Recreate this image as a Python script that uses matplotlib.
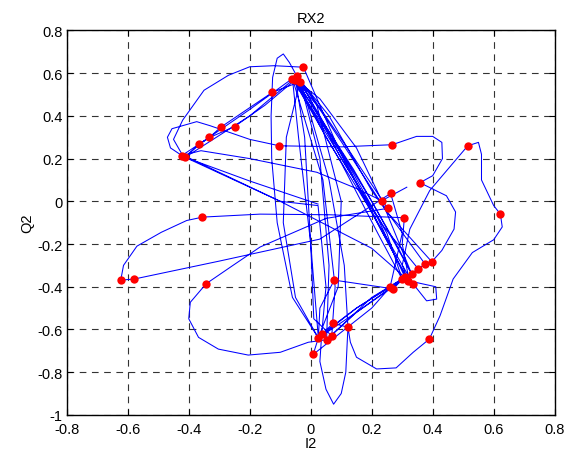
import matplotlib
matplotlib.use('Agg')
import matplotlib.pyplot as plt

plt.rcParams['font.family'] = ['Liberation Sans', 'DejaVu Sans']

# received trajectory (I2, Q2)
traj_i = [0.024, -0.20, -0.412,
          -0.365, -0.20, -0.06,
          0.08, 0.22, 0.309,
          0.15, 0.036,
          0.03, 0.05, 0.075, 0.10, 0.115, 0.122,
          0.11, 0.06, -0.02, -0.045,
          -0.07, -0.09, -0.11, -0.125, -0.13, -0.128, -0.11, -0.06, 0.025,
          0.15, 0.331,
          0.20, 0.05, -0.035,
          -0.126, -0.295, -0.332, -0.423,
          -0.36, -0.20, 0.02, 0.15, 0.233,
          0.15, 0.03, -0.05,
          0.05, 0.20, 0.32,
          0.41, 0.413, 0.38, 0.336,
          0.22, 0.09, -0.024,
          -0.12, -0.20, -0.27, -0.35, -0.42, -0.45, -0.418,
          -0.46, -0.47, -0.455, -0.374, -0.33, -0.20, -0.103, 0.10, 0.267,
          0.347, 0.40, 0.43, 0.432, 0.40, 0.358, 0.445, 0.475, 0.47, 0.43, 0.397,
          0.25, 0.10, -0.04,
          0.10, 0.24, 0.353,
          0.20, 0.052,
          -0.008, -0.10, -0.205, -0.303, -0.368, -0.40, -0.395, -0.343,
          -0.255, -0.166, 0.05, 0.252,
          0.12, 0.0, -0.05,
          -0.02, 0.0, 0.01, 0.069,
          0.08, 0.04, -0.06,
          0.12, 0.25, 0.30,
          0.271, 0.20, 0.077, 0.03, 0.025,
          0.008, 0.20, 0.26,
          0.30, 0.262, 0.03, -0.30, -0.579, -0.623,
          -0.614, -0.57, -0.49, -0.407, -0.355, -0.166, 0.063, 0.307,
          0.30, 0.32, 0.375,
          0.20, 0.06, -0.045,
          -0.20, -0.412,
          -0.10, 0.024, 0.05, 0.036,
          0.074, 0.122, 0.13, 0.15, 0.216, 0.28, 0.336, 0.389,
          0.424, 0.467, 0.53, 0.60, 0.628, 0.622, 0.60, 0.56, 0.56, 0.55, 0.515,
          0.39, 0.325, 0.30, 0.32,
          0.18, 0.07, -0.05,
          -0.15, -0.25, -0.33, -0.365, -0.41,
          -0.10, 0.20, 0.309,
          0.15, 0.025,
          0.0, -0.04, -0.06,
          0.10, 0.22, 0.30,
          0.15, 0.052,
          0.06, 0.03, -0.035,
          -0.08, -0.09, -0.05, 0.025,
          0.09, 0.10, 0.02, -0.05,
          0.14, 0.28, 0.331,
          0.233, 0.315]
traj_q = [-0.013, 0.095, 0.206,
          0.268, 0.43, 0.575,
          0.25, -0.08, -0.356,
          -0.50, -0.622,
          -0.75, -0.88, -0.95, -0.90, -0.80, -0.59,
          -0.30, 0.10, 0.50, 0.585,
          0.65, 0.69, 0.67, 0.58, 0.40, 0.20, -0.10, -0.45, -0.64,
          -0.52, -0.34,
          0.0, 0.35, 0.56,
          0.51, 0.347, 0.30, 0.214,
          0.237, 0.20, 0.136, 0.06, 0.003,
          0.25, 0.48, 0.57,
          0.30, -0.05, -0.372,
          -0.40, -0.458, -0.466, -0.387,
          -0.10, 0.25, 0.628,
          0.635, 0.63, 0.59, 0.52, 0.38, 0.29, 0.21,
          0.25, 0.30, 0.34, 0.373, 0.354, 0.29, 0.26, 0.255, 0.265,
          0.304, 0.304, 0.276, 0.20, 0.12, 0.087, 0.026, -0.05, -0.13, -0.23, -0.283,
          -0.05, 0.28, 0.58,
          0.20, -0.12, -0.317,
          -0.45, -0.648,
          -0.66, -0.707, -0.72, -0.692, -0.637, -0.55, -0.473, -0.386,
          -0.30, -0.214, -0.08, -0.033,
          0.25, 0.50, 0.57,
          0.30, -0.20, -0.55, -0.63,
          -0.40, 0.10, 0.575,
          0.18, -0.15, -0.365,
          -0.41, -0.395, -0.369, -0.50, -0.64,
          -0.717, -0.50, -0.403,
          -0.15, 0.037, -0.177, -0.28, -0.364, -0.369,
          -0.30, -0.21, -0.145, -0.09, -0.074, -0.06, -0.063, -0.077,
          -0.20, -0.35, -0.294,
          0.05, 0.40, 0.585,
          0.40, 0.206,
          0.0, -0.02, -0.40, -0.622,
          -0.571, -0.59, -0.66, -0.73, -0.785, -0.78, -0.707, -0.645,
          -0.536, -0.364, -0.24, -0.18, -0.12, -0.06, -0.02, 0.10, 0.22, 0.276, 0.26,
          0.05, -0.13, -0.30, -0.372,
          0.0, 0.30, 0.57,
          0.45, 0.35, 0.30, 0.268, 0.21,
          0.0, -0.22, -0.356,
          -0.50, -0.64,
          -0.20, 0.30, 0.575,
          0.18, -0.15, -0.365,
          -0.52, -0.648,
          -0.30, 0.20, 0.56,
          0.30, -0.10, -0.45, -0.64,
          -0.40, 0.0, 0.45, 0.57,
          0.15, -0.20, -0.34,
          0.003, 0.066]

# symbol sampling instants (red dots)
sym_i = [-0.024, -0.06, -0.045, -0.035, -0.05, -0.126, -0.25, -0.295, -0.332,
         -0.365, -0.423, -0.412, -0.103, 0.267, 0.515, 0.358, 0.262, 0.233,
         0.252, 0.307, 0.622, -0.355, -0.623, -0.579, -0.343, 0.077, 0.397,
         0.375, 0.353, 0.331, 0.309, 0.336, 0.32, 0.30, 0.271, 0.26, 0.389,
         0.074, 0.122, 0.025, 0.052, 0.069, 0.036, 0.008]
sym_q = [0.628, 0.575, 0.585, 0.56, 0.57, 0.51, 0.35, 0.347, 0.30,
         0.268, 0.214, 0.206, 0.26, 0.265, 0.26, 0.087, 0.037, 0.003,
         -0.033, -0.077, -0.06, -0.074, -0.369, -0.364, -0.386, -0.369, -0.283,
         -0.294, -0.317, -0.34, -0.356, -0.387, -0.372, -0.365, -0.41, -0.403, -0.645,
         -0.571, -0.59, -0.64, -0.648, -0.63, -0.622, -0.717]

fig = plt.figure(figsize=(5.66, 4.56), dpi=100)
ax = fig.add_axes([0.118, 0.088, 0.862, 0.843])

ax.plot(traj_i, traj_q, color='b', linewidth=0.75)
ax.plot(sym_i, sym_q, 'o', color='r', markersize=6, markeredgewidth=0)

ax.set_xlim(-0.8, 0.8)
ax.set_ylim(-1, 0.8)
ax.set_xticks([-0.8, -0.6, -0.4, -0.2, 0, 0.2, 0.4, 0.6, 0.8])
ax.set_yticks([-1, -0.8, -0.6, -0.4, -0.2, 0, 0.2, 0.4, 0.6, 0.8])
ax.set_xticklabels(['-0.8', '-0.6', '-0.4', '-0.2', '0', '0.2', '0.4', '0.6', '0.8'])
ax.set_yticklabels(['-1', '-0.8', '-0.6', '-0.4', '-0.2', '0', '0.2', '0.4', '0.6', '0.8'])
ax.grid(True, color='#333333', linestyle=(0, (6, 5)), linewidth=0.8)
ax.set_axisbelow(True)
ax.tick_params(direction='in', length=4, top=True, right=True, labelsize=10.5)
ax.tick_params(axis='x', pad=5)
ax.tick_params(axis='y', pad=3)
for s in ax.spines.values():
    s.set_linewidth(1.0)

ax.set_title('RX2', fontsize=10.5)
ax.set_xlabel('I2', fontsize=10.5, labelpad=0)
ax.set_ylabel('Q2', fontsize=10.5, labelpad=2)

fig.savefig('out.png', dpi=100)
